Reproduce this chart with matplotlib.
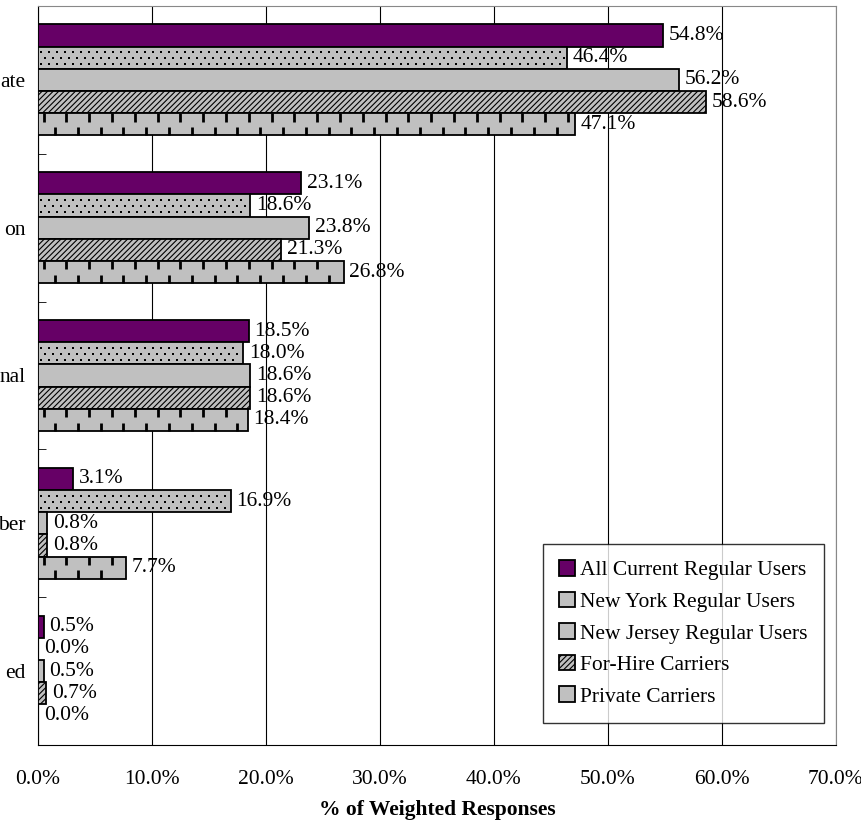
import matplotlib.pyplot as plt
import numpy as np

plt.rcParams['font.family'] = ['Liberation Serif', 'DejaVu Serif']
plt.rcParams['hatch.linewidth'] = 0.8

categories = ['ate', 'on', 'nal', 'ber', 'ed']
series = ['All Current Regular Users', 'New York Regular Users',
          'New Jersey Regular Users', 'For-Hire Carriers', 'Private Carriers']
all_users = [54.8, 23.1, 18.5, 3.1, 0.5]
ny_users = [46.4, 18.6, 18.0, 16.9, 0.0]
nj_users = [56.2, 23.8, 18.6, 0.8, 0.5]
for_hire = [58.6, 21.3, 18.6, 0.8, 0.7]
private = [47.1, 26.8, 18.4, 7.7, 0.0]
values = [all_users, ny_users, nj_users, for_hire, private]

colors = ['#660066', '#c0c0c0', '#c0c0c0', '#c0c0c0', '#c0c0c0']
hatches = [None, None, None, '//////', None]
fs = 15.5

fig = plt.figure(figsize=(8.62, 8.24), dpi=100)
ax = fig.add_axes([38/862, 1-745/824, (836-38)/862, (745-6)/824])

y = np.arange(len(categories))
h = 0.15
for i, (vals, c, ht) in enumerate(zip(values, colors, hatches)):
    pos = y - 2*h + i*h
    bars = ax.barh(pos, vals, height=h, color=c, edgecolor='black',
                   linewidth=1.3, hatch=ht, label=series[i], zorder=3)
    for b, v in zip(bars, vals):
        ax.text(v + 0.5, b.get_y() + h/2, '%.1f%%' % v, va='center', ha='left',
                fontsize=fs, zorder=5)
    if i == 1:
        # dotted pattern of the New York bars
        for b, v in zip(bars, vals):
            top = b.get_y() + h
            for k, fr in enumerate([0.2, 0.47, 0.74]):
                xs = np.arange(0.3 + 0.35*(k % 2), v - 0.2, 0.7)
                ax.scatter(xs, np.full(len(xs), top - fr*h), marker='s', s=3,
                           color='black', linewidths=0, zorder=4)
    if i == 4:
        # vertical dash pattern of the private carriers bars
        step = 2.0
        for b, v in zip(bars, vals):
            top = b.get_y() + h
            bot = b.get_y()
            xs1 = np.arange(1.5, v - 0.3, step)
            xs2 = np.arange(0.5, v - 0.3, step)
            ax.vlines(xs1, top - h*0.38, top, color='black', lw=2.0, zorder=4)
            ax.vlines(xs2, bot, bot + h*0.38, color='black', lw=2.0, zorder=4)

ax.set_xlim(0, 70)
ax.set_ylim(len(categories) - 0.5, -0.5)
ax.set_xticks(np.arange(0, 71, 10))
ax.set_xticklabels(['%.1f%%' % t for t in np.arange(0, 71, 10)], fontsize=fs)
ax.set_yticks(y)
ax.set_yticklabels(categories, fontsize=fs)
ax.set_yticks(np.arange(-0.5, len(categories), 1), minor=True)
ax.tick_params(axis='y', which='major', length=0, pad=9)
ax.tick_params(axis='y', which='minor', direction='in', length=6)
ax.tick_params(axis='x', length=0, pad=18)
ax.grid(axis='x', color='black', linewidth=0.8, zorder=0)
ax.spines['top'].set_color('#888888')
ax.spines['right'].set_color('#888888')
ax.set_xlabel('% of Weighted Responses', fontsize=fs, fontweight='bold', labelpad=8)

leg = ax.legend(loc='lower right', bbox_to_anchor=(0.985, 0.030), borderaxespad=0,
                fontsize=fs, frameon=True, fancybox=False, edgecolor='black',
                handlelength=0.75, handleheight=0.75, handletextpad=0.25,
                labelspacing=0.52, borderpad=0.75)
leg.get_frame().set_linewidth(1.0)

fig.savefig('out.png', dpi=100)
